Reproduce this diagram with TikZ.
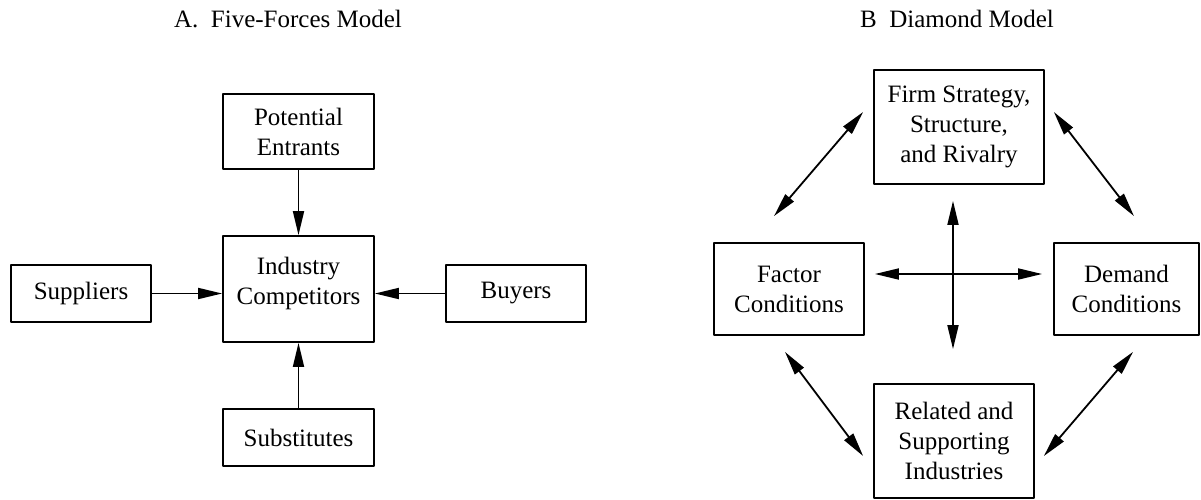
\documentclass[tikz,border=0pt]{standalone}
\usepackage{fontspec}
\setmainfont{Liberation Serif}
\usetikzlibrary{arrows.meta}
\begin{document}
\begin{tikzpicture}[x=0.5pt,y=-0.5pt,>={Triangle[length=12pt,width=5.5pt]}, font=\fontsize{12.5}{15}\selectfont, line join=round, line width=0.9pt,
	box/.style={draw, align=center, inner sep=0pt}]
	\def\wA{75.5pt} \def\wS{70pt} \def\hS{28.5pt}
	\useasboundingbox (0,0) rectangle (1201,499);
	% A. Five-Forces Model
	\node[anchor=base] (titleA) at (288,27) {A.\ \ Five-Forces Model};
	\node[box, minimum width=\wA, minimum height=37.5pt] (entrants) at (298.5,131.5) {Potential\\Entrants};
	\node[box, minimum width=\wA, minimum height=53pt, text depth=7.7pt] (industry) at (298.5,289) {Industry\\Competitors};
	\node[box, minimum width=\wS, minimum height=\hS] (suppliers) at (81,293.5) {Suppliers};
	\node[box, minimum width=\wS, minimum height=\hS] (buyers) at (516,293.5) {Buyers};
	\node[box, minimum width=\wA, minimum height=\hS] (substitutes) at (298.5,437.5) {Substitutes};
	\draw[->] (entrants) -- (industry);
	\draw[->] (substitutes) -- (industry);
	\draw[->] (suppliers.east) -- (suppliers.east -| industry.west);
	\draw[->] (buyers.west) -- (buyers.west -| industry.east);
	% B Diamond Model
	\node[anchor=base] (titleB) at (957,27) {B\ \ Diamond Model};
	\node[box, minimum width=85pt, minimum height=57pt] (firm) at (959,127) {Firm Strategy,\\Structure,\\and Rivalry};
	\node[box, minimum width=75pt, minimum height=46pt] (factor) at (789,289) {Factor\\Conditions};
	\node[box, minimum width=72.5pt, minimum height=46pt] (demand) at (1126.5,289) {Demand\\Conditions};
	\node[box, minimum width=80pt, minimum height=57pt] (related) at (954,441) {Related and\\Supporting\\Industries};
	\coordinate (hub) at (953,274);
	\draw[<->, shorten <=5pt, shorten >=5.5pt] (factor.east |- hub) -- (demand.west |- hub);
	\draw[<->, shorten <=8pt, shorten >=17pt] (firm.south -| hub) -- (related.north -| hub);
	\draw[<->] ([shift={(-10,-15)}]firm.west) -- ([shift={(-15,-26)}]factor.north);
	\draw[<->] ([shift={(9,-15)}]firm.east) -- ([shift={(7.5,-26)}]demand.north);
	\draw[<->] ([shift={(-4,16)}]factor.south) -- ([shift={(-10,15)}]related.west);
	\draw[<->] ([shift={(6.5,16)}]demand.south) -- ([shift={(9,15)}]related.east);
\end{tikzpicture}
\end{document}
